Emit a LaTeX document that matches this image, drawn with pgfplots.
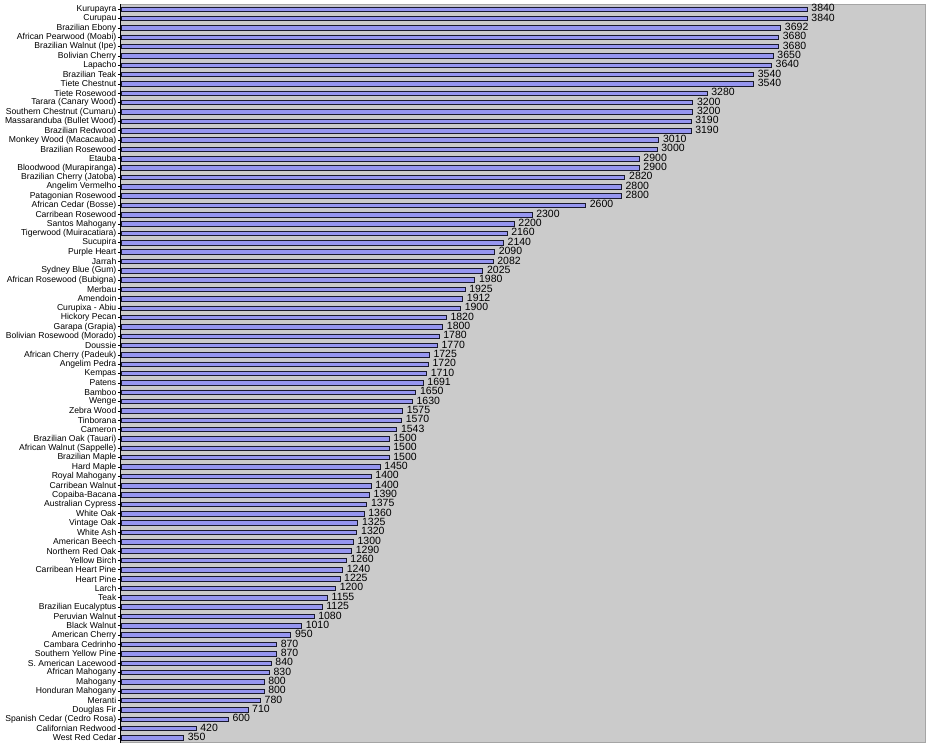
\documentclass[border=0pt]{standalone}
\usepackage{pgfplots}
\usepackage{pgfplotstable}
\pgfplotsset{compat=1.18}
\usepackage{fontspec}
\setmainfont{Liberation Sans}

\definecolor{barfill}{RGB}{150,150,240}
\definecolor{bardraw}{RGB}{25,25,45}
\definecolor{plotbg}{RGB}{203,203,203}
\definecolor{framegray}{RGB}{165,165,165}

\pgfplotstableread[col sep=comma]{
idx,val,name
0,3840,Kurupayra
1,3840,Curupau
2,3692,Brazilian Ebony
3,3680,African Pearwood (Moabi)
4,3680,Brazilian Walnut (Ipe)
5,3650,Bolivian Cherry
6,3640,Lapacho
7,3540,Brazilian Teak
8,3540,Tiete Chestnut
9,3280,Tiete Rosewood
10,3200,Tarara (Canary Wood)
11,3200,Southern Chestnut (Cumaru)
12,3190,Massaranduba (Bullet Wood)
13,3190,Brazilian Redwood
14,3010,Monkey Wood (Macacauba)
15,3000,Brazilian Rosewood
16,2900,Etauba
17,2900,Bloodwood (Murapiranga)
18,2820,Brazilian Cherry (Jatoba)
19,2800,Angelim Vermelho
20,2800,Patagonian Rosewood
21,2600,African Cedar (Bosse)
22,2300,Carribean Rosewood
23,2200,Santos Mahogany
24,2160,Tigerwood (Muiracatiara)
25,2140,Sucupira
26,2090,Purple Heart
27,2082,Jarrah
28,2025,Sydney Blue (Gum)
29,1980,African Rosewood (Bubigna)
30,1925,Merbau
31,1912,Amendoin
32,1900,Curupixa - Abiu
33,1820,Hickory Pecan
34,1800,Garapa (Grapia)
35,1780,Bolivian Rosewood (Morado)
36,1770,Doussie
37,1725,African Cherry (Padeuk)
38,1720,Angelim Pedra
39,1710,Kempas
40,1691,Patens
41,1650,Bamboo
42,1630,Wenge
43,1575,Zebra Wood
44,1570,Tinborana
45,1543,Cameron
46,1500,Brazilian Oak (Tauari)
47,1500,African Walnut (Sappelle)
48,1500,Brazilian Maple
49,1450,Hard Maple
50,1400,Royal Mahogany
51,1400,Carribean Walnut
52,1390,Copaiba-Bacana
53,1375,Australian Cypress
54,1360,White Oak
55,1325,Vintage Oak
56,1320,White Ash
57,1300,American Beech
58,1290,Northern Red Oak
59,1260,Yellow Birch
60,1240,Carribean Heart Pine
61,1225,Heart Pine
62,1200,Larch
63,1155,Teak
64,1125,Brazilian Eucalyptus
65,1080,Peruvian Walnut
66,1010,Black Walnut
67,950,American Cherry
68,870,Cambara Cedrinho
69,870,Southern Yellow Pine
70,840,S. American Lacewood
71,830,African Mahogany
72,800,Mahogany
73,800,Honduran Mahogany
74,780,Meranti
75,710,Douglas Fir
76,600,Spanish Cedar (Cedro Rosa)
77,420,Californian Redwood
78,350,West Red Cedar
}\woods

\begin{document}
\begin{tikzpicture}
\begin{axis}[
    scale only axis,
    width=804pt, height=738pt,
    xbar, bar width=4.5pt,
    xmin=0, xmax=4500,
    ymin=-0.5, ymax=78.5,
    y dir=reverse,
    clip=false,
    axis background/.style={fill=plotbg},
    axis line style={framegray, line width=1pt},
    xtick=\empty,
    ytick={0,1,...,78},
    yticklabels from table={\woods}{name},
    ytick pos=left,
    tick align=outside,
    major tick length=3pt,
    ytick style={black, line width=0.6pt},
    yticklabel style={font=\fontsize{8.6}{9}\selectfont, inner sep=1.5pt},
    nodes near coords={\pgfmathprintnumber[1000 sep={}]{\pgfplotspointmeta}},
    nodes near coords style={font=\fontsize{10.5}{11}\selectfont, anchor=west, inner sep=1pt, xshift=3pt, yshift=1pt, black},
    /pgf/number format/assume math mode=true,
]
\addplot[fill=barfill, draw=bardraw, line width=0.7pt] table[x=val, y=idx] {\woods};
\draw[black, line width=1pt] (rel axis cs:0,0) -- (rel axis cs:0,1);
\end{axis}
\path (current axis.south west) ++(-121pt,-5.5pt);
\path (current axis.north east) ++(5pt,4.5pt);
\end{tikzpicture}
\end{document}
